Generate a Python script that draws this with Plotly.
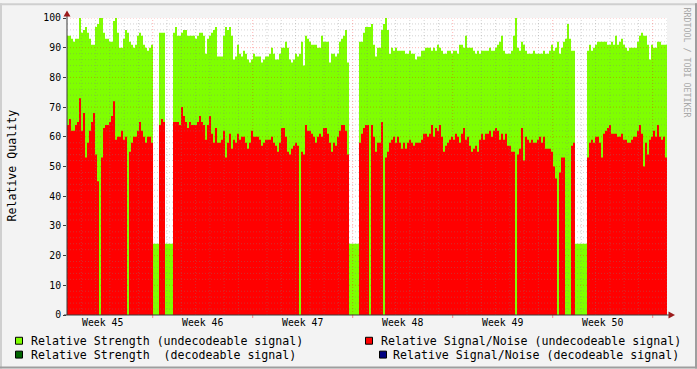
import numpy as np
import plotly.graph_objects as go

# ---------------- data ----------------
# one sample every 3.36 h over 6 weeks (300 samples), starting at day 0
SAMPLE_DAYS = 42 / 300

# Relative Strength (undecodeable signal), green area
STRENGTH = [
    94, 94, 93, 92, 93, 93, 100, 95, 96, 97,
    95, 93, 91, 91, 97, 98, 100, 100, 95, 93,
    93, 92, 92, 99, 100, 95, 90, 90, 93, 96,
    95, 92, 91, 90, 91, 94, 95, 94, 91, 90,
    89, 90, 91, 24, 24, 24, 95, 95, 95, 24,
    24, 24, 24, 95, 97, 94, 94, 95, 96, 96,
    94, 94, 94, 94, 93, 94, 95, 95, 94, 88,
    93, 94, 95, 96, 97, 87, 87, 87, 94, 97,
    96, 97, 94, 86, 87, 91, 88, 87, 89, 88,
    86, 85, 86, 88, 87, 87, 87, 85, 86, 87,
    87, 88, 90, 88, 86, 86, 88, 90, 90, 92,
    90, 86, 85, 86, 88, 87, 88, 92, 84, 94,
    93, 92, 91, 91, 91, 90, 90, 94, 92, 92,
    92, 85, 88, 88, 87, 88, 92, 93, 94, 96,
    85, 24, 24, 24, 24, 24, 92, 92, 95, 97,
    97, 97, 98, 91, 87, 90, 90, 96, 98, 100,
    96, 88, 90, 89, 90, 89, 89, 89, 89, 88,
    88, 89, 88, 88, 86, 87, 87, 89, 89, 90,
    90, 90, 89, 90, 89, 91, 90, 89, 88, 88,
    89, 89, 88, 89, 89, 88, 91, 91, 90, 94,
    90, 90, 90, 89, 88, 89, 88, 89, 89, 89,
    89, 90, 89, 89, 90, 91, 92, 94, 89, 88,
    88, 88, 89, 94, 100, 90, 89, 92, 91, 89,
    88, 88, 88, 89, 88, 88, 88, 88, 89, 88,
    88, 89, 91, 89, 90, 92, 88, 90, 92, 93,
    98, 93, 89, 89, 24, 24, 24, 24, 24, 24,
    89, 91, 89, 90, 91, 92, 92, 92, 92, 92,
    91, 91, 92, 91, 94, 91, 92, 93, 91, 90,
    89, 90, 90, 90, 90, 92, 94, 95, 94, 94,
    91, 86, 91, 90, 90, 92, 92, 91, 91, 91,
]

# Relative Signal/Noise (undecodeable signal), red area
SIGNAL_NOISE = [
    64, 66, 62, 62, 64, 65, 73, 62, 68, 53,
    58, 62, 65, 68, 54, 45, 0, 53, 63, 64,
    64, 65, 67, 72, 59, 60, 60, 62, 59, 60,
    0, 55, 58, 60, 60, 62, 65, 62, 60, 58,
    60, 60, 58, 0, 0, 0, 64, 66, 65, 0,
    0, 0, 0, 65, 65, 65, 64, 70, 67, 65,
    63, 65, 64, 64, 64, 65, 67, 65, 64, 59,
    64, 67, 61, 58, 63, 58, 58, 59, 62, 53,
    58, 61, 56, 59, 58, 61, 59, 60, 60, 58,
    56, 58, 62, 60, 60, 60, 59, 57, 58, 59,
    59, 59, 60, 58, 57, 55, 58, 63, 63, 60,
    55, 54, 56, 57, 58, 57, 0, 55, 54, 64,
    62, 62, 61, 60, 58, 60, 61, 60, 63, 63,
    61, 58, 55, 58, 57, 60, 62, 64, 64, 62,
    54, 0, 0, 0, 0, 0, 58, 61, 63, 64,
    64, 0, 64, 60, 55, 58, 58, 65, 0, 53,
    55, 58, 59, 60, 58, 60, 58, 56, 58, 56,
    58, 59, 58, 57, 58, 58, 58, 59, 61, 61,
    60, 61, 64, 60, 63, 62, 64, 60, 55, 57,
    58, 59, 60, 59, 61, 60, 58, 61, 63, 59,
    60, 57, 55, 56, 57, 55, 59, 61, 59, 61,
    61, 62, 60, 62, 63, 62, 59, 61, 59, 61,
    57, 57, 55, 55, 0, 54, 56, 63, 52, 60,
    59, 58, 59, 58, 58, 59, 60, 58, 60, 56,
    56, 56, 55, 50, 46, 0, 48, 53, 53, 0,
    0, 0, 57, 58, 0, 0, 0, 0, 0, 0,
    53, 58, 59, 58, 60, 60, 58, 53, 61, 62,
    63, 64, 61, 61, 61, 60, 60, 61, 59, 59,
    58, 58, 59, 60, 60, 62, 64, 61, 50, 58,
    54, 59, 60, 62, 60, 64, 60, 59, 60, 53,
]

WEEK_LABELS = ["Week 45", "Week 46", "Week 47", "Week 48", "Week 49", "Week 50"]
WEEK_LABEL_DAYS = [2.5, 9.5, 16.5, 23.5, 30.5, 37.5]
WEEK_BOUNDARY_DAYS = [6, 13, 20, 27, 34, 41]
Y_TICKS = [0, 10, 20, 30, 40, 50, 60, 70, 80, 90, 100]

LEGEND = [
    ("Relative Strength (undecodeable signal)", "#7FFF00"),
    ("Relative Strength\u00a0 (decodeable signal)", "#006400"),
    ("Relative Signal/Noise (undecodeable signal)", "#FF0000"),
    ("Relative Signal/Noise (decodeable signal)", "#000080"),
]

# ---------------- figure ----------------
W, H = 697, 369
L, R, T, B = 67, 30, 15, 54
PW, PH = W - L - R, H - T - B
X_MAX = SAMPLE_DAYS * len(STRENGTH)

FONT = "DejaVu Sans Mono"


def fx(px):
    return (px - L) / PW


def fy(py):
    return (T + PH - py) / PH


xs = np.arange(len(STRENGTH) + 1) * SAMPLE_DAYS
g = list(STRENGTH) + [STRENGTH[-1]]
r = list(SIGNAL_NOISE) + [SIGNAL_NOISE[-1]]

fig = go.Figure()
fig.add_trace(go.Scatter(x=xs, y=g, mode="lines", line=dict(width=0, shape="hv"),
                         fill="tozeroy", fillcolor="#7FFF00", hoverinfo="skip"))
fig.add_trace(go.Scatter(x=xs, y=r, mode="lines", line=dict(width=0, shape="hv"),
                         fill="tozeroy", fillcolor="#FF0000", hoverinfo="skip"))

shapes = []
MINOR = "rgba(128,128,128,0.35)"
MAJOR = "rgba(255,0,0,0.30)"
DASH = "1px,2px"
# horizontal grid
for v in range(2, 101, 2):
    shapes.append(dict(type="line", xref="x", yref="y", x0=0, x1=X_MAX, y0=v, y1=v,
                       line=dict(color=MAJOR if v % 10 == 0 else MINOR, width=1, dash=DASH),
                       layer="above"))
# vertical grid: days and week boundaries
for d in range(1, int(round(X_MAX)) + 1):
    col = MAJOR if d in WEEK_BOUNDARY_DAYS else MINOR
    shapes.append(dict(type="line", xref="x", yref="y", x0=d, x1=d, y0=0, y1=100,
                       line=dict(color=col, width=1, dash=DASH), layer="above"))
# week boundary ticks below the axis
for d in WEEK_BOUNDARY_DAYS:
    shapes.append(dict(type="line", xref="x", yref="paper", x0=d, x1=d, y0=fy(315), y1=fy(318),
                       line=dict(color="rgba(255,0,0,0.45)", width=1), layer="above"))

AXIS = "#3a3a3a"
ARROW = "#9B1B1B"
# axis lines
shapes.append(dict(type="line", xref="paper", yref="paper", x0=fx(67), x1=fx(67),
                   y0=fy(315), y1=fy(11), line=dict(color=AXIS, width=1), layer="above"))
shapes.append(dict(type="line", xref="paper", yref="paper", x0=fx(64), x1=fx(671),
                   y0=fy(315), y1=fy(315), line=dict(color=AXIS, width=1), layer="above"))
# arrows
shapes.append(dict(type="path", xref="paper", yref="paper",
                   path=f"M {fx(63.5)} {fy(13.5)} L {fx(70.5)} {fy(13.5)} L {fx(67)} {fy(7.5)} Z",
                   fillcolor=ARROW, line=dict(width=0), layer="above"))
shapes.append(dict(type="path", xref="paper", yref="paper",
                   path=f"M {fx(668.5)} {fy(311.5)} L {fx(668.5)} {fy(318.5)} L {fx(675)} {fy(315)} Z",
                   fillcolor=ARROW, line=dict(width=0), layer="above"))

# frame around the image
shapes += [
    dict(type="rect", xref="paper", yref="paper", x0=fx(0), x1=fx(697), y0=fy(0), y1=fy(2),
         fillcolor="#CFCFCF", line=dict(width=0), layer="above"),
    dict(type="rect", xref="paper", yref="paper", x0=fx(0), x1=fx(2), y0=fy(0), y1=fy(369),
         fillcolor="#CFCFCF", line=dict(width=0), layer="above"),
    dict(type="rect", xref="paper", yref="paper", x0=fx(0), x1=fx(697), y0=fy(367), y1=fy(369),
         fillcolor="#9E9E9E", line=dict(width=0), layer="above"),
    dict(type="rect", xref="paper", yref="paper", x0=fx(695), x1=fx(697), y0=fy(0), y1=fy(369),
         fillcolor="#9E9E9E", line=dict(width=0), layer="above"),
]

# legend boxes + text
LEG_POS = [  # (square x0, text x, row y center, anchor)
    (15.5, 29, 341, "left"),
    (15.5, 29, 355, "left"),
    (365.5, 379, 341, "left"),
    (379.5, 681, 355, "right"),
]
annotations = []
for (label, color), (sx, tx, cy, anch) in zip(LEGEND, LEG_POS):
    shapes.append(dict(type="rect", xref="paper", yref="paper", x0=fx(sx), x1=fx(sx + 7),
                       y0=fy(cy - 3.5), y1=fy(cy + 3.5), fillcolor=color,
                       line=dict(color="#000000", width=1), layer="above"))
    annotations.append(dict(text=label, xref="paper", yref="paper", x=fx(tx), y=fy(cy),
                            xanchor=anch, yanchor="middle", showarrow=False,
                            font=dict(family=FONT, size=11.6, color="#000000")))

annotations.append(dict(text="Relative Quality", xref="paper", yref="paper", x=fx(12), y=fy(164),
                        xanchor="center", yanchor="middle", textangle=-90, showarrow=False,
                        font=dict(family=FONT, size=11.6, color="#000000")))
annotations.append(dict(text="RRDTOOL / TOBI OETIKER", xref="paper", yref="paper", x=fx(687),
                        y=fy(60), xanchor="center", yanchor="middle", textangle=90,
                        showarrow=False, font=dict(family=FONT, size=8.3, color="#A8A8A8")))

fig.update_layout(
    width=W, height=H, autosize=False,
    margin=dict(l=L, r=R, t=T, b=B, pad=0),
    paper_bgcolor="#F3F3F3", plot_bgcolor="#FFFFFF",
    showlegend=False,
    shapes=shapes, annotations=annotations,
    xaxis=dict(range=[0, X_MAX], tickvals=WEEK_LABEL_DAYS, ticktext=WEEK_LABELS,
               showgrid=False, zeroline=False, showline=False, ticks="",
               tickfont=dict(family=FONT, size=9.8, color="#000000"), fixedrange=True),
    yaxis=dict(range=[0, 100], tickvals=Y_TICKS, showgrid=False, zeroline=False,
               showline=False, ticks="outside", ticklen=3, tickcolor=AXIS,
               tickfont=dict(family=FONT, size=9.8, color="#000000"), fixedrange=True),
)

fig.write_html("out.html")
